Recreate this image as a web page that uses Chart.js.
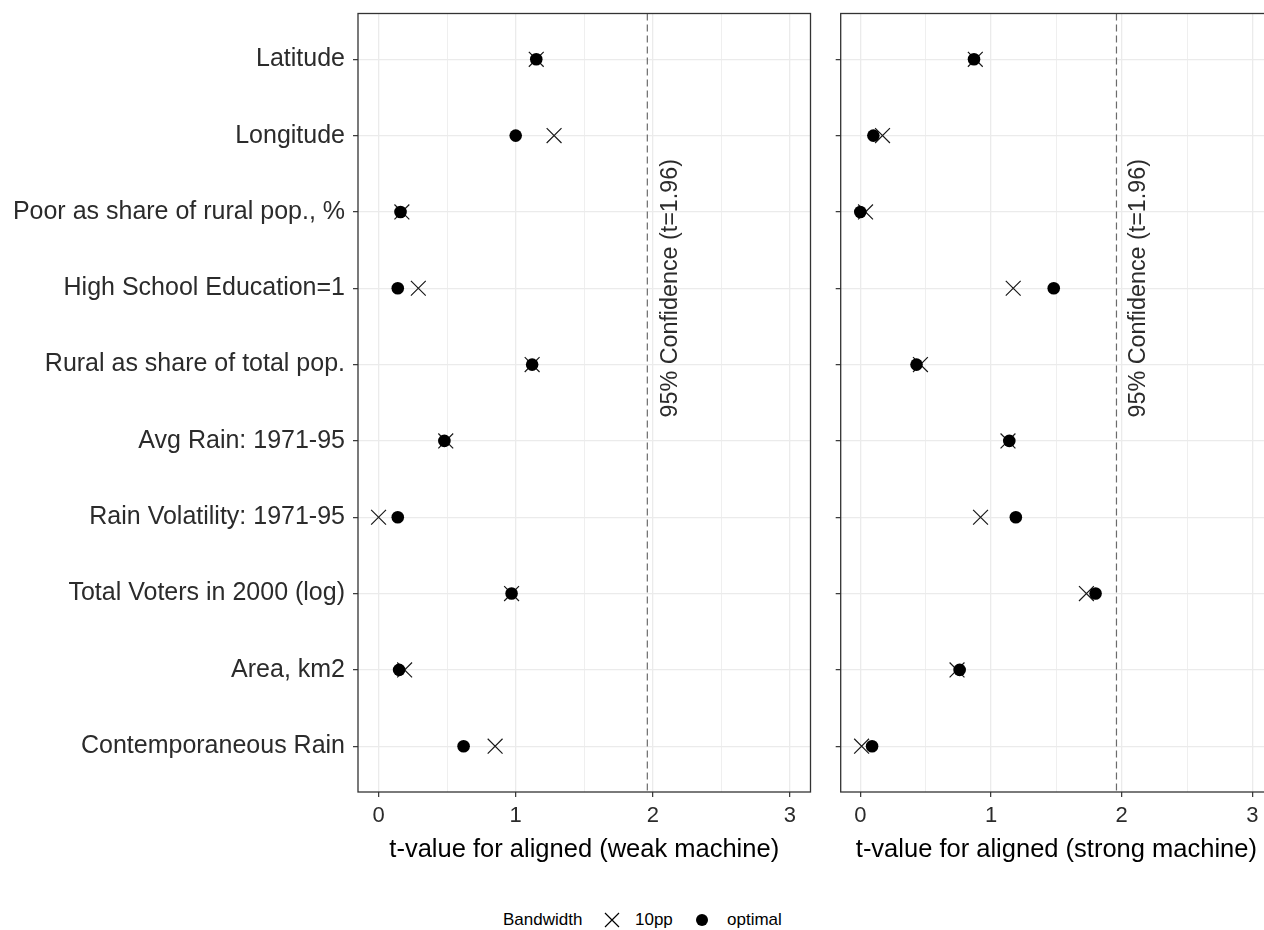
<!DOCTYPE html>
<html>
<head>
<meta charset="utf-8">
<script src="https://cdn.jsdelivr.net/npm/chart.js@4.4.1/dist/chart.umd.min.js"></script>
<style>
    html, body { margin: 0; padding: 0; background: #fff; overflow: hidden; }
    #page { position: relative; width: 1264px; height: 930px; overflow: hidden; }
    #weak-chart { position: absolute; left: 0; top: 0; }
    #strong-chart { position: absolute; left: 829px; top: 0; }
    .lg { position: absolute; font-family: "Liberation Sans", Arial, sans-serif; font-size: 17px; color: #000; line-height: 20px; top: 910px; white-space: nowrap; }
    .lg svg { position: absolute; }
</style>
</head>
<body>
<div id="page">
    <canvas id="weak-chart" width="830" height="880"></canvas>
    <canvas id="strong-chart" width="455" height="880"></canvas>
    <span class="lg" style="left:503px">Bandwidth</span>
    <svg class="lg" style="left:604px;top:912px" width="16" height="16"><path d="M1 1 L15 15 M15 1 L1 15" stroke="#000" stroke-width="1.2" fill="none"/></svg>
    <span class="lg" style="left:635px">10pp</span>
    <svg class="lg" style="left:695px;top:913px" width="14" height="14"><circle cx="7" cy="7" r="6" fill="#000"/></svg>
    <span class="lg" style="left:727px">optimal</span>
</div>
<script>
(function () {
    const categories = [
        "Latitude",
        "Longitude",
        "Poor as share of rural pop., %",
        "High School Education=1",
        "Rural as share of total pop.",
        "Avg Rain: 1971-95",
        "Rain Volatility: 1971-95",
        "Total Voters in 2000 (log)",
        "Area, km2",
        "Contemporaneous Rain",
    ];

    // t-values, weak machine panel
    const weakOptimal = [1.15, 1.00, 0.16, 0.14, 1.12, 0.48, 0.14, 0.97, 0.15, 0.62];
    const weak10pp = [1.15, 1.28, 0.17, 0.29, 1.12, 0.49, 0.00, 0.97, 0.19, 0.85];

    // t-values, strong machine panel
    const strongOptimal = [0.87, 0.10, 0.00, 1.48, 0.43, 1.14, 1.19, 1.80, 0.76, 0.09];
    const strong10pp = [0.88, 0.17, 0.04, 1.17, 0.46, 1.13, 0.92, 1.73, 0.74, 0.01];

    const xTickValues = [0, 0.5, 1, 1.5, 2, 2.5, 3];
    const confidenceT = 1.96;
    const confidenceLabel = "95% Confidence (t=1.96)";

    const FONT = '"Liberation Sans", Arial, sans-serif';
    const GRID = "#EBEBEB";
    const INK = "#2b2b2b";

    function toPoints(values) {
        return values.map((v, i) => ({ x: v, y: i + 1 }));
    }

    function noScalePadding(scale) {
        scale.paddingTop = 0;
        scale.paddingBottom = 0;
        scale.paddingLeft = 0;
        scale.paddingRight = 0;
    }

    // dashed reference line, its label and the panel frame
    const panelDecor = {
        id: "panelDecor",
        beforeDatasetsDraw(chart) {
            const ctx = chart.ctx;
            const area = chart.chartArea;
            const xs = chart.scales.x;
            const ys = chart.scales.y;
            const lx = xs.getPixelForValue(confidenceT);
            ctx.save();
            ctx.strokeStyle = "#6b6b6b";
            ctx.lineWidth = 1.2;
            ctx.setLineDash([7, 4]);
            ctx.beginPath();
            ctx.moveTo(lx, area.top);
            ctx.lineTo(lx, area.bottom);
            ctx.stroke();
            ctx.setLineDash([]);
            ctx.translate(xs.getPixelForValue(2.13), ys.getPixelForValue(4));
            ctx.rotate(-Math.PI / 2);
            ctx.font = "23.3px " + FONT;
            ctx.fillStyle = INK;
            ctx.textAlign = "center";
            ctx.textBaseline = "middle";
            ctx.fillText(confidenceLabel, 0, 0);
            ctx.restore();
        },
        afterDatasetsDraw(chart) {
            const ctx = chart.ctx;
            const a = chart.chartArea;
            ctx.save();
            ctx.strokeStyle = "#333";
            ctx.lineWidth = 1.3;
            ctx.strokeRect(a.left, a.top, a.right - a.left, a.bottom - a.top);
            ctx.restore();
        },
    };

    function drawPanel(canvasId, optimal, tenPp, title, yWidth, padRight, showLabels) {
        const config = {
            type: "scatter",
            data: {
                datasets: [
                    {
                        label: "optimal",
                        data: toPoints(optimal),
                        pointStyle: "circle",
                        pointRadius: 6.3,
                        backgroundColor: "#000",
                        borderColor: "#000",
                        borderWidth: 0,
                        order: 0,
                    },
                    {
                        label: "10pp",
                        data: toPoints(tenPp),
                        pointStyle: "crossRot",
                        pointRadius: 10.5,
                        borderColor: "#1a1a1a",
                        borderWidth: 1.2,
                        order: 1,
                    },
                ],
            },
            options: {
                responsive: false,
                animation: false,
                events: [],
                layout: { padding: { top: 13.5, right: padRight, bottom: 0, left: 0 } },
                plugins: {
                    legend: { display: false },
                    tooltip: { enabled: false },
                },
                scales: {
                    x: {
                        type: "linear",
                        min: -0.15,
                        max: 3.15,
                        afterBuildTicks: function (scale) {
                            scale.ticks = xTickValues.map((v) => ({ value: v }));
                        },
                        afterFit: function (scale) {
                            scale.height = 88;
                            noScalePadding(scale);
                        },
                        border: { display: false },
                        grid: {
                            color: GRID,
                            lineWidth: (c) => (c.tick && Number.isInteger(c.tick.value) ? 1.3 : 0.8),
                            drawTicks: true,
                            tickLength: 5,
                            tickWidth: 1.2,
                            tickColor: (c) => (c.tick && Number.isInteger(c.tick.value) ? "#333" : "rgba(0,0,0,0)"),
                        },
                        ticks: {
                            autoSkip: false,
                            maxRotation: 0,
                            padding: 6,
                            color: INK,
                            font: { family: FONT, size: 22 },
                            callback: (v) => (Number.isInteger(v) ? String(v) : ""),
                        },
                        title: {
                            display: true,
                            text: title,
                            color: "#000",
                            font: { family: FONT, size: 25.5 },
                            padding: { top: 0, bottom: 15 },
                        },
                    },
                    y: {
                        type: "linear",
                        reverse: true,
                        min: 0.4,
                        max: 10.6,
                        afterBuildTicks: function (scale) {
                            scale.ticks = categories.map((c, i) => ({ value: i + 1 }));
                        },
                        afterFit: function (scale) {
                            scale.width = yWidth;
                            noScalePadding(scale);
                        },
                        border: { display: false },
                        grid: {
                            color: GRID,
                            lineWidth: 1.3,
                            drawTicks: true,
                            tickLength: 5,
                            tickWidth: 1.2,
                            tickColor: "#333",
                        },
                        ticks: {
                            autoSkip: false,
                            padding: 8,
                            color: INK,
                            font: { family: FONT, size: 25 },
                            callback: (v) => (showLabels ? categories[v - 1] : ""),
                        },
                    },
                },
            },
            plugins: [panelDecor],
        };

        new Chart(document.getElementById(canvasId).getContext("2d"), config);
    }

    drawPanel("weak-chart", weakOptimal, weak10pp, "t-value for aligned (weak machine)", 358, 19.5, true);
    drawPanel("strong-chart", strongOptimal, strong10pp, "t-value for aligned (strong machine)", 10, 12, false);
})();
</script>
</body>
</html>
